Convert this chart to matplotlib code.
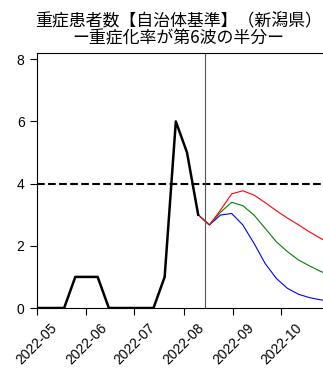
import matplotlib
matplotlib.use("Agg")
import matplotlib.pyplot as plt
import matplotlib.dates as mdates
import pandas as pd

plt.rcParams['font.family'] = ['Noto Sans CJK JP', 'DejaVu Sans']

# observed weekly severe cases
obs_dates = pd.to_datetime([
    "2022-04-27", "2022-05-04", "2022-05-11", "2022-05-18", "2022-05-25",
    "2022-06-01", "2022-06-08", "2022-06-15", "2022-06-22", "2022-06-29",
    "2022-07-06", "2022-07-13", "2022-07-20", "2022-07-27", "2022-08-03",
    "2022-08-10",
])
obs_vals = [0, 0, 0, 0, 1, 1, 1, 0, 0, 0, 0, 0, 1, 6, 5, 3]

# projections
proj_dates = pd.to_datetime([
    "2022-08-10", "2022-08-17", "2022-08-24", "2022-08-31", "2022-09-07",
    "2022-09-14", "2022-09-21", "2022-09-28", "2022-10-05", "2022-10-12",
    "2022-10-19", "2022-10-26", "2022-11-02",
])
proj_red = [3, 2.67, 3.15, 3.67, 3.77, 3.63, 3.39, 3.13, 2.89, 2.67, 2.44, 2.23, 2.08]
proj_green = [3, 2.67, 3.08, 3.40, 3.29, 2.99, 2.56, 2.13, 1.81, 1.54, 1.35, 1.17, 1.05]
proj_blue = [3, 2.67, 2.99, 3.04, 2.67, 2.08, 1.43, 0.95, 0.63, 0.44, 0.33, 0.26, 0.22]

threshold = 4
today = pd.Timestamp("2022-08-14")

fig = plt.figure(figsize=(3.23, 3.69), dpi=100)
ax = fig.add_axes([0.1146, 0.1653, 0.904, 0.691])

ax.plot(proj_dates, proj_blue, color="blue", lw=0.8)
ax.plot(proj_dates, proj_green, color="green", lw=0.8)
ax.plot(proj_dates, proj_red, color="red", lw=0.8)
ax.plot(obs_dates, obs_vals, color="black", lw=1.8)
ax.axhline(threshold, color="black", lw=1.5, ls="--")
ax.axvline(today, color="#555555", lw=0.8)

ax.set_xlim(pd.Timestamp("2022-05-01"), pd.Timestamp("2022-10-31"))
ax.set_ylim(0, 8.2)
ax.set_yticks([0, 2, 4, 6, 8])
ax.xaxis.set_major_locator(mdates.MonthLocator())
ax.xaxis.set_major_formatter(mdates.DateFormatter("%Y-%m"))
ax.tick_params(labelsize=10, length=5, pad=4)
for lab in ax.get_xticklabels() + ax.get_yticklabels():
    lab.set_family("Liberation Sans")
for lab in ax.get_xticklabels():
    lab.set_rotation(45)
    lab.set_ha("center")

ax.set_title("重症患者数【自治体基準】（新潟県）\nー重症化率が第6波の半分ー",
             fontsize=12.2, linespacing=1.0, pad=7, x=0.485)

fig.savefig("out.png", dpi=100)
